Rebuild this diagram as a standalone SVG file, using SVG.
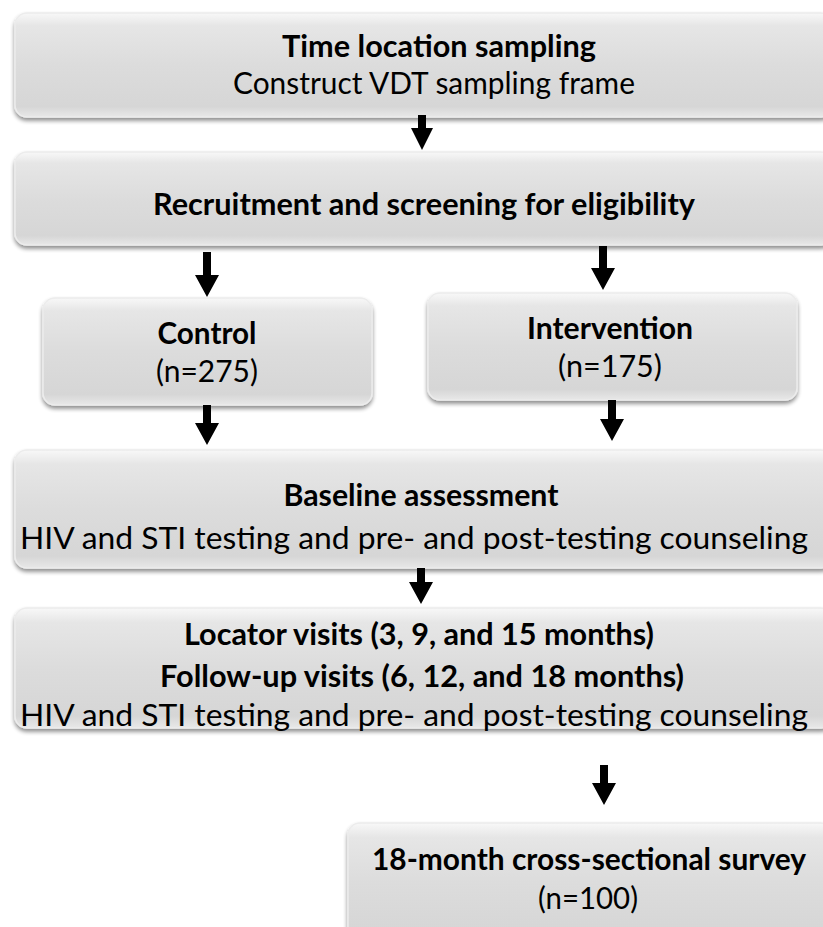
<svg xmlns="http://www.w3.org/2000/svg" width="823" height="927" viewBox="0 0 823 927">
<defs>
<linearGradient id="gv" x1="0" y1="0" x2="0" y2="1">
<stop offset="0" stop-color="#f8f8f8"/>
<stop offset="0.12" stop-color="#e6e6e6"/>
<stop offset="0.5" stop-color="#dcdcdc"/>
<stop offset="0.9" stop-color="#d6d6d6"/>
<stop offset="1" stop-color="#e8e8e8"/>
</linearGradient>
<filter id="sh" x="-5%" y="-10%" width="110%" height="130%">
<feGaussianBlur in="SourceAlpha" stdDeviation="2"/>
<feOffset dx="0" dy="3" result="b"/>
<feComponentTransfer><feFuncA type="linear" slope="0.45"/></feComponentTransfer>
<feMerge><feMergeNode/><feMergeNode in="SourceGraphic"/></feMerge>
</filter>
</defs>
<style>
.box{fill:url(#gv);filter:url(#sh);stroke:#ececec;stroke-width:1.5}
text{font-family:Lato,"Open Sans","Liberation Sans",sans-serif;font-size:30px;fill:#000;text-anchor:middle}
.b{font-weight:bold}
.arr{fill:#000}
</style>
<rect width="823" height="927" fill="#fff"/>
<g id="n1">
<rect class="box" x="15" y="13" width="818" height="104" rx="12"/>
<text class="b" x="439" y="57" textLength="314" lengthAdjust="spacingAndGlyphs">Time location sampling</text>
<text x="434" y="94" textLength="402" lengthAdjust="spacingAndGlyphs">Construct VDT sampling frame</text>
</g>
<g id="n2">
<rect class="box" x="15" y="152" width="818" height="93" rx="12"/>
<text class="b" x="424" y="215" textLength="542" lengthAdjust="spacingAndGlyphs">Recruitment and screening for eligibility</text>
</g>
<g id="n3">
<rect class="box" x="43" y="298" width="329" height="107" rx="12"/>
<text class="b" x="207" y="344" textLength="99" lengthAdjust="spacingAndGlyphs">Control</text>
<text x="207" y="382" textLength="102" lengthAdjust="spacingAndGlyphs">(n=275)</text>
</g>
<g id="n4">
<rect class="box" x="428" y="293" width="369" height="107" rx="12"/>
<text class="b" x="610" y="339" textLength="166" lengthAdjust="spacingAndGlyphs">Intervention</text>
<text x="610" y="377" textLength="104" lengthAdjust="spacingAndGlyphs">(n=175)</text>
</g>
<g id="n5">
<rect class="box" x="15" y="450" width="818" height="118" rx="12"/>
<text class="b" x="421" y="506" textLength="275" lengthAdjust="spacingAndGlyphs">Baseline assessment</text>
<text x="414" y="549" textLength="788" lengthAdjust="spacingAndGlyphs">HIV and STI testing and pre- and post-testing counseling</text>
</g>
<g id="n6">
<rect class="box" x="15" y="608" width="818" height="120" rx="12"/>
<text class="b" x="419" y="645" textLength="470" lengthAdjust="spacingAndGlyphs">Locator visits (3, 9, and 15 months)</text>
<text class="b" x="422" y="687" textLength="524" lengthAdjust="spacingAndGlyphs">Follow-up visits (6, 12, and 18 months)</text>
<text x="414" y="726" textLength="788" lengthAdjust="spacingAndGlyphs">HIV and STI testing and pre- and post-testing counseling</text>
</g>
<g id="n7">
<rect class="box" x="348" y="823" width="485" height="120" rx="12"/>
<text class="b" x="589" y="870" textLength="434" lengthAdjust="spacingAndGlyphs">18-month cross-sectional survey</text>
<text x="588" y="909" textLength="100" lengthAdjust="spacingAndGlyphs">(n=100)</text>
</g>
<g id="connectors">
<path class="arr" d="M418,115 h8 v13 h7 l-11,22 l-11,-22 h7 z"/>
<path class="arr" d="M203,252 h8 v23 h8 l-12,22 l-12,-22 h8 z"/>
<path class="arr" d="M599,246 h8 v22 h8 l-12,22 l-12,-22 h8 z"/>
<path class="arr" d="M203,405 h8 v18 h8 l-12,22 l-12,-22 h8 z"/>
<path class="arr" d="M608,400 h8 v19 h8 l-12,22 l-12,-22 h8 z"/>
<path class="arr" d="M417,568 h8 v14 h8 l-12,22 l-12,-22 h8 z"/>
<path class="arr" d="M600,765 h8 v18 h8 l-12,22 l-12,-22 h8 z"/>
</g>
</svg>
